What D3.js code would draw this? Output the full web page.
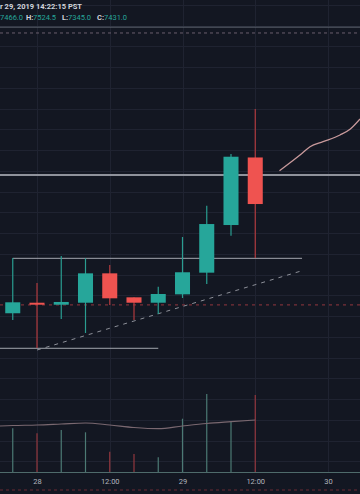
<!DOCTYPE html>
<html><head><meta charset="utf-8">
<script src="https://cdn.jsdelivr.net/npm/d3@7"></script>
<style>html,body{margin:0;padding:0;background:#131722;overflow:hidden}</style>
</head><body><svg id="c" width="360" height="494"></svg>
<script>
// ---- data ----
const candleTimes = ["2019-10-27 20:00","2019-10-28 00:00","2019-10-28 04:00","2019-10-28 08:00","2019-10-28 12:00","2019-10-28 16:00","2019-10-28 20:00","2019-10-29 00:00","2019-10-29 04:00","2019-10-29 08:00","2019-10-29 12:00"];
const opens  = [7278.3, 7291.0, 7288.6, 7291.0, 7326.4, 7297.5, 7291.0, 7301.1, 7327.2, 7384.6, 7466.0];
const highs  = [7345.0, 7314.8, 7347.3, 7344.5, 7336.4, 7297.5, 7310.3, 7370.2, 7407.9, 7470.2, 7524.5];
const lows   = [7270.2, 7236.4, 7271.4, 7254.5, 7288.3, 7270.2, 7277.4, 7296.7, 7313.6, 7371.7, 7345.0];
const closes = [7291.5, 7288.6, 7291.9, 7326.4, 7296.3, 7291.0, 7301.5, 7327.7, 7385.8, 7466.9, 7409.9];
const volumes = [437, 387, 420, 397, 203, 180, 147, 533, 780, 503, 770];
const volMATimes = ["2019-10-27 16:00"].concat(candleTimes);
const volMA = [455, 465, 470, 480, 490, 470, 445, 433, 460, 485, 503, 520];
const tickTimes = ["2019-10-28 00:00","2019-10-28 12:00","2019-10-29 00:00","2019-10-29 12:00","2019-10-30 00:00"];
const tickLabels = ["28","12:00","29","12:00","30"];
const brushTimes = ["2019-10-29 16:00","2019-10-29 17:44","2019-10-29 19:23","2019-10-29 21:02","2019-10-29 23:11","2019-10-30 01:59","2019-10-30 03:38","2019-10-30 05:17"];
const brushPrices = [7450.1, 7459.7, 7469.0, 7479.0, 7485.0, 7493.1, 7499.9, 7512.3];
const hLineThick = 7445;          // full-width horizontal line
const hLineRedDashed = 7288.3;    // dashed red line
const hLineTop = 7623, hLineTopDashed = 7616;
const segA = {t0:"2019-10-27 20:00", t1:"2019-10-29 19:43", p:7344.5};
const segB = {t0:"2019-10-27 17:50", t1:"2019-10-28 20:00", p:7236.1};
const trend = {t0:"2019-10-28 00:00", p0:7234, t1:"2019-10-29 19:33", p1:7329.2};
const headerLine1 = "r 29, 2019 14:22:15 PST";
const headerLabels = ["", "H:", "L:", "C:"];
const headerValues = ["7466.0", "7524.5", "7345.0", "7431.0"];

// ---- setup ----
const parse = d3.utcParse("%Y-%m-%d %H:%M");
const svg = d3.select("#c");
const W = 360, H = 494, axisY = 472;
svg.append("rect").attr("width",W).attr("height",H).attr("fill","#131722");

const x = d3.scaleUtc().domain([parse("2019-10-28 00:00"), parse("2019-10-30 00:00")]).range([37, 328]);
const pxPer = 20.75/25;
const y = d3.scaleLinear().domain([7475 - (axisY-150)/pxPer, 7475 + 150/pxPer]).range([axisY, 0]);
const yv = d3.scaleLinear().domain([0, 1000]).range([axisY, axisY-100]);

const candles = candleTimes.map((t,i)=>({t:parse(t),o:opens[i],h:highs[i],l:lows[i],c:closes[i],v:volumes[i]}));
const step = x(d3.utcHour.offset(candles[0].t,4)) - x(candles[0].t);
const bw = step*0.62;

// grid
const grid = svg.append("g");
grid.selectAll("line.h").data(d3.range(7100, 7651, 25)).join("line")
  .attr("x1",0).attr("x2",W).attr("y1",d=>Math.round(y(d))+0.5).attr("y2",d=>Math.round(y(d))+0.5)
  .attr("stroke","#1f2331").attr("stroke-width",1);
grid.selectAll("line.v").data(tickTimes.map(parse)).join("line")
  .attr("x1",d=>Math.round(x(d))+0.5).attr("x2",d=>Math.round(x(d))+0.5).attr("y1",0).attr("y2",axisY)
  .attr("stroke","#1f2331").attr("stroke-width",1);

// top lines
svg.append("line").attr("x1",0).attr("x2",W).attr("y1",y(hLineTop)).attr("y2",y(hLineTop))
  .attr("stroke","#5b616d").attr("stroke-width",1);
svg.append("line").attr("x1",0).attr("x2",W).attr("y1",y(hLineTopDashed)).attr("y2",y(hLineTopDashed))
  .attr("stroke","#6a5f6c").attr("stroke-width",1).attr("stroke-dasharray","3,3");

// volume
svg.append("g").selectAll("line").data(candles).join("line")
  .attr("x1",d=>x(d.t)).attr("x2",d=>x(d.t)).attr("y1",yv(0)).attr("y2",d=>yv(d.v))
  .attr("stroke",d=>d.c>=d.o?"#4c7a74":"#93373e").attr("stroke-width",1.2);
svg.append("path").datum(volMATimes.map((t,i)=>[parse(t),volMA[i]]))
  .attr("fill","none").attr("stroke","#7a6870").attr("stroke-width",1.2)
  .attr("d", d3.line().x(d=>x(d[0])).y(d=>yv(d[1])).curve(d3.curveMonotoneX));

// horizontal lines
svg.append("line").attr("x1",0).attr("x2",W).attr("y1",y(hLineRedDashed)).attr("y2",y(hLineRedDashed))
  .attr("stroke","#7a3038").attr("stroke-width",1.2).attr("stroke-dasharray","3,4");
svg.append("line").attr("x1",0).attr("x2",W).attr("y1",y(hLineThick)).attr("y2",y(hLineThick))
  .attr("stroke","#8f929b").attr("stroke-width",2);
svg.append("line").attr("x1",x(parse(segA.t0))).attr("x2",x(parse(segA.t1))).attr("y1",y(segA.p)).attr("y2",y(segA.p))
  .attr("stroke","#a3a6ae").attr("stroke-width",1);
svg.append("line").attr("x1",x(parse(segB.t0))).attr("x2",x(parse(segB.t1))).attr("y1",y(segB.p)).attr("y2",y(segB.p))
  .attr("stroke","#a3a6ae").attr("stroke-width",1);
svg.append("line").attr("x1",x(parse(trend.t0))).attr("x2",x(parse(trend.t1))).attr("y1",y(trend.p0)).attr("y2",y(trend.p1))
  .attr("stroke","#8d9099").attr("stroke-width",1).attr("stroke-dasharray","4,5");

// candles
const cg = svg.append("g");
cg.selectAll("line").data(candles).join("line")
  .attr("x1",d=>x(d.t)).attr("x2",d=>x(d.t)).attr("y1",d=>y(d.h)).attr("y2",d=>y(d.l))
  .attr("stroke",d=>d.c>=d.o?"#2a9d90":"#b03a3e").attr("stroke-width",1.2);
cg.selectAll("rect").data(candles).join("rect")
  .attr("x",d=>x(d.t)-bw/2).attr("width",bw)
  .attr("y",d=>y(Math.max(d.o,d.c))).attr("height",d=>Math.max(2, Math.abs(y(d.o)-y(d.c))))
  .attr("fill",d=>d.c>=d.o?"#26a69a":"#ef5350");

// brush line
svg.append("path").datum(brushTimes.map((t,i)=>[parse(t),brushPrices[i]]))
  .attr("fill","none").attr("stroke","#c99a9c").attr("stroke-width",1.3)
  .attr("d", d3.line().x(d=>x(d[0])).y(d=>y(d[1])).curve(d3.curveMonotoneX));

// x axis
const ax = svg.append("g").attr("transform",`translate(0,${axisY})`)
  .call(d3.axisBottom(x).tickValues(tickTimes.map(parse)).tickFormat((d,i)=>tickLabels[i]).tickSize(0).tickPadding(7));
ax.select(".domain").remove();
ax.selectAll("text").attr("fill","#b2b5be").attr("font-size","7.5px").attr("font-family","Roboto, 'Liberation Sans', sans-serif");
svg.append("line").attr("x1",0).attr("x2",W).attr("y1",axisY+0.5).attr("y2",axisY+0.5).attr("stroke","#4f6b6b").attr("stroke-width",1);
svg.append("line").attr("x1",0).attr("x2",W).attr("y1",490).attr("y2",490)
  .attr("stroke","#6b2a33").attr("stroke-width",1).attr("stroke-dasharray","3,3");

// header
const font = "Roboto, 'Liberation Sans', sans-serif";
svg.append("text").attr("x",0).attr("y",8.5).attr("fill","#d1d4dc").attr("font-size","7.5px")
  .attr("font-weight","bold").attr("font-family",font).text(headerLine1);
const labelX = [0, 26, 62, 97], valueX = [0, 33, 68, 104];
const hg = svg.append("g").attr("font-size","7.5px").attr("font-family",font);
headerLabels.forEach((l,i)=>{
  if (l) hg.append("text").attr("x",labelX[i]).attr("y",19.5).attr("fill","#d1d4dc").attr("font-weight","bold").text(l);
  hg.append("text").attr("x",valueX[i]).attr("y",19.5).attr("fill","#26a69a").text(headerValues[i]);
});
</script></body></html>
